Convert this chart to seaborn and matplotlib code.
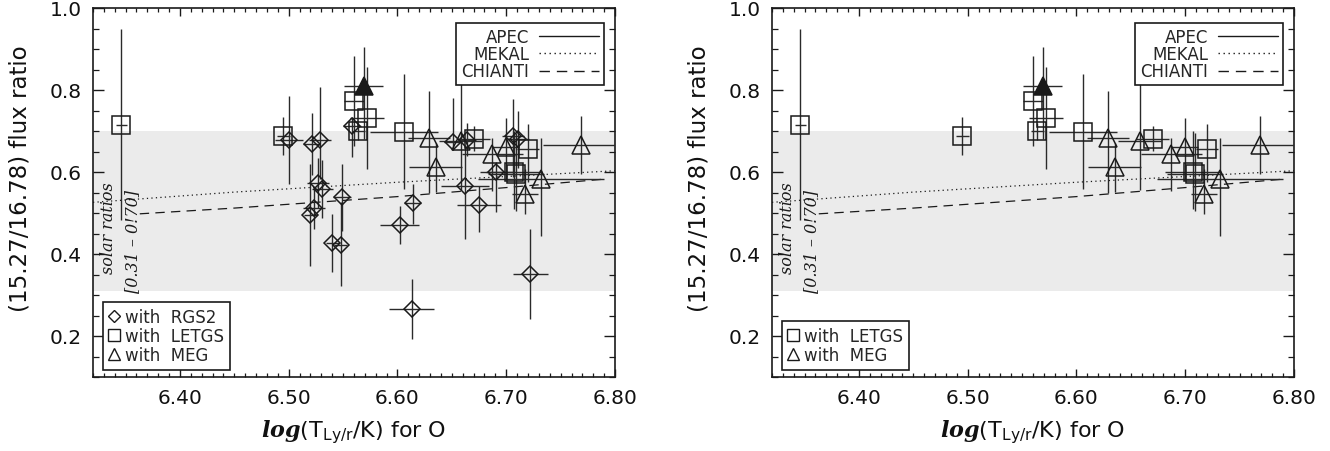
import matplotlib
matplotlib.use("Agg")
import matplotlib.pyplot as plt
import seaborn as sns
import pandas as pd
from matplotlib.lines import Line2D
from matplotlib.ticker import MultipleLocator, FormatStrFormatter

# ---------------- data ----------------
# RGS2 (diamonds)
rgs_x = [6.500, 6.521, 6.529, 6.527, 6.531, 6.523, 6.520, 6.549, 6.540, 6.548, 6.558,
         6.614, 6.602, 6.651, 6.664, 6.691, 6.706, 6.711, 6.675, 6.662, 6.722, 6.613]
rgs_y = [0.678, 0.668, 0.678, 0.573, 0.559, 0.511, 0.495, 0.538, 0.427, 0.422, 0.711,
         0.524, 0.471, 0.674, 0.679, 0.599, 0.687, 0.680, 0.520, 0.567, 0.351, 0.266]
rgs_ylo = [0.107, 0.076, 0.095, 0.060, 0.070, 0.050, 0.124, 0.081, 0.070, 0.100, 0.075,
           0.051, 0.047, 0.020, 0.040, 0.097, 0.100, 0.070, 0.067, 0.130, 0.110, 0.073]
rgs_yhi = [0.108, 0.076, 0.130, 0.060, 0.070, 0.050, 0.125, 0.082, 0.070, 0.104, 0.022,
           0.047, 0.047, 0.106, 0.040, 0.025, 0.090, 0.070, 0.047, 0.097, 0.110, 0.073]
rgs_xerr = [0.013, 0.008, 0.010, 0.010, 0.010, 0.010, 0.006, 0.008, 0.006, 0.006, 0.008,
            0.008, 0.018, 0.008, 0.008, 0.015, 0.010, 0.010, 0.020, 0.022, 0.016, 0.021]

# LETGS (squares)
let_x = [6.346, 6.495, 6.560, 6.572, 6.564, 6.606, 6.670, 6.720, 6.707, 6.709]
let_y = [0.715, 0.688, 0.772, 0.731, 0.699, 0.698, 0.681, 0.656, 0.600, 0.596]
let_ylo = [0.232, 0.046, 0.108, 0.124, 0.020, 0.139, 0.030, 0.080, 0.090, 0.090]
let_yhi = [0.234, 0.046, 0.112, 0.124, 0.020, 0.142, 0.030, 0.060, 0.100, 0.100]
let_xerr = [0.005, 0.006, 0.009, 0.016, 0.006, 0.031, 0.015, 0.010, 0.026, 0.026]

# MEG (open triangles)
meg_x = [6.629, 6.635, 6.658, 6.687, 6.700, 6.717, 6.732, 6.769]
meg_y = [0.683, 0.611, 0.676, 0.644, 0.662, 0.547, 0.584, 0.666]
meg_ylo = [0.133, 0.060, 0.120, 0.090, 0.080, 0.050, 0.140, 0.070]
meg_yhi = [0.115, 0.060, 0.143, 0.040, 0.070, 0.060, 0.100, 0.070]
meg_xerr = [0.019, 0.024, 0.020, 0.028, 0.012, 0.012, 0.058, 0.035]

# MEG (filled triangle)
megf_x = [6.569]
megf_y = [0.810]
megf_ylo = [0.130]
megf_yhi = [0.094]
megf_xerr = [0.018]

# model curves
mekal_x = [6.32, 6.45, 6.60, 6.70, 6.80]
mekal_y = [0.526, 0.551, 0.575, 0.589, 0.603]
chianti_x = [6.363, 6.45, 6.60, 6.70, 6.792]
chianti_y = [0.498, 0.512, 0.540, 0.562, 0.583]

solar_lo, solar_hi = 0.31, 0.70

xticks = [6.40, 6.50, 6.60, 6.70, 6.80]
yticks = [0.2, 0.4, 0.6, 0.8, 1.0]

# ---------------- style ----------------
sns.set_theme(style="ticks")
plt.rcParams['font.family'] = ['DejaVu Sans']
plt.rcParams['mathtext.fontset'] = 'dejavuserif'

fig = plt.figure(figsize=(13.3, 4.52), dpi=100)
W, H = 1330.0, 452.0
ax1 = fig.add_axes([93 / W, 74 / H, 522 / W, 369 / H])
ax2 = fig.add_axes([772 / W, 74 / H, 522 / W, 369 / H])

ecol = '#2a2a2a'


def draw_set(ax, xs, ys, lo, hi, xe, marker, ms, filled=False, mew=1.1):
    ax.errorbar(xs, ys, yerr=[lo, hi], xerr=xe, fmt='none', ecolor=ecol,
                elinewidth=1.0, capsize=0, zorder=3)
    df = pd.DataFrame({'x': xs, 'y': ys})
    ax.plot(df['x'], df['y'], ls='none', marker=marker, ms=ms,
            mfc='k' if filled else 'none', mec='k', mew=mew, zorder=4)


try:
    from matplotlib.mathtext import MathTextParser
    MathTextParser('path').parse(r"$\mathbfit{log}$")
    logtxt = r"$\mathbfit{log}$"
except Exception:
    logtxt = r"$\mathit{log}$"

xlabel = logtxt + r"(T$_{\mathsf{Ly/r}}$/K) for O"

for i, ax in enumerate([ax1, ax2]):
    ax.axhspan(solar_lo, solar_hi, color='#ebebeb', lw=0, zorder=0)
    sns.lineplot(x=mekal_x, y=mekal_y, ax=ax, color='k', lw=0.9,
                 linestyle=(0, (1.0, 2.6)), zorder=2)
    sns.lineplot(x=chianti_x, y=chianti_y, ax=ax, color='k', lw=0.9,
                 linestyle=(0, (7.5, 5)), zorder=2)
    if i == 0:
        draw_set(ax, rgs_x, rgs_y, rgs_ylo, rgs_yhi, rgs_xerr, 'D', 8.5)
    draw_set(ax, let_x, let_y, let_ylo, let_yhi, let_xerr, 's', 13)
    draw_set(ax, meg_x, meg_y, meg_ylo, meg_yhi, meg_xerr, '^', 13)
    draw_set(ax, megf_x, megf_y, megf_ylo, megf_yhi, megf_xerr, '^', 13, filled=True)

    ax.set_xlim(6.32, 6.80)
    ax.set_ylim(0.10, 1.0)
    ax.set_xticks(xticks)
    ax.set_yticks(yticks)
    ax.xaxis.set_major_formatter(FormatStrFormatter('%.2f'))
    ax.yaxis.set_major_formatter(FormatStrFormatter('%.1f'))
    ax.xaxis.set_minor_locator(MultipleLocator(0.01))
    ax.yaxis.set_minor_locator(MultipleLocator(0.05))
    ax.tick_params(axis='both', which='both', direction='in', top=True, right=True,
                   color='k', labelsize=14.5, labelcolor='#111111')
    ax.tick_params(axis='x', which='major', length=6, width=1.0, pad=8)
    ax.tick_params(axis='x', which='minor', length=3, width=0.9)
    ax.tick_params(axis='y', which='major', length=8, width=1.0, pad=8)
    ax.tick_params(axis='y', which='minor', length=4.5, width=0.9)
    for sp in ax.spines.values():
        sp.set_color('k')
        sp.set_linewidth(1.2)
    ax.set_xlabel(xlabel, fontsize=16, color='#111111', labelpad=7)
    ax.set_ylabel("(15.27/16.78) flux ratio", fontsize=16.5, color='#111111')
    ax.yaxis.set_label_coords(-0.117, 0.54)

    ax.text(0.029, 0.405, "solar ratios", transform=ax.transAxes, rotation=90,
            ha='center', va='center', fontsize=11.5, family='DejaVu Serif',
            style='italic', color='k')
    ax.text(0.075, 0.37, "[0.31 – 0!70]", transform=ax.transAxes, rotation=90,
            ha='center', va='center', fontsize=11.5, family='DejaVu Serif',
            style='italic', color='k')

    # instrument legend (lower left)
    handles, labels = [], []
    if i == 0:
        handles.append(Line2D([], [], ls='none', marker='D', ms=6, mfc='none', mec='k', mew=1))
        labels.append("with  RGS2")
    handles.append(Line2D([], [], ls='none', marker='s', ms=8.5, mfc='none', mec='k', mew=1))
    labels.append("with  LETGS")
    handles.append(Line2D([], [], ls='none', marker='^', ms=9, mfc='none', mec='k', mew=1))
    labels.append("with  MEG")
    leg1 = ax.legend(handles, labels, loc='lower left', bbox_to_anchor=(0.0186, 0.0198),
                     borderaxespad=0, fancybox=False, framealpha=1, edgecolor='k',
                     fontsize=12, handlelength=0.7, handletextpad=0.3,
                     labelspacing=0.05, borderpad=0.35)
    leg1.get_frame().set_linewidth(1.2)
    ax.add_artist(leg1)

    # model legend (upper right)
    mh = [Line2D([], [], color='k', lw=1.0, ls='-'),
          Line2D([], [], color='k', lw=1.0, ls=(0, (1.0, 2.6))),
          Line2D([], [], color='k', lw=1.0, ls=(0, (7.5, 5)))]
    leg2 = ax.legend(mh, ["APEC", "MEKAL", "CHIANTI"], loc='upper right',
                     bbox_to_anchor=(0.979, 0.959), borderaxespad=0, fancybox=False,
                     framealpha=1, edgecolor='k', fontsize=12, markerfirst=False,
                     handlelength=3.6, handletextpad=0.6, labelspacing=-0.05,
                     borderpad=0.3)
    leg2.get_frame().set_linewidth(1.2)

fig.savefig("out.png", dpi=100)
